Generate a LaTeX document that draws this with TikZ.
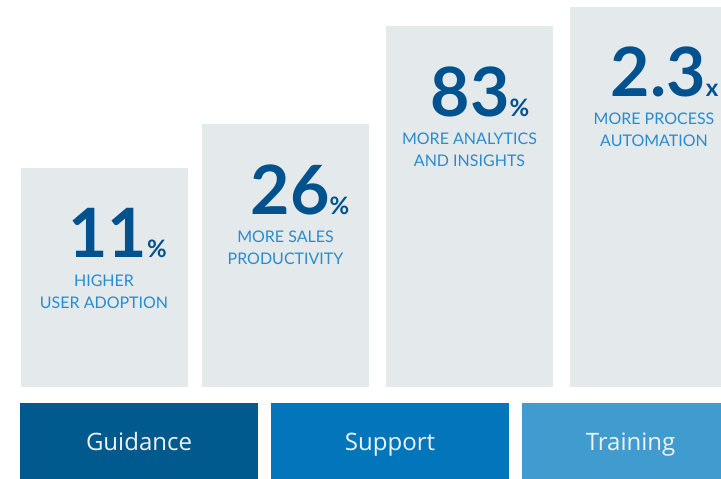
\documentclass[tikz,border=0pt]{standalone}
\usepackage{fontspec}
\setmainfont{Lato}
\newfontfamily\labelfont{Open Sans}
\usepackage{xcolor}
\definecolor{barcolor}{HTML}{E4E9EC}
\definecolor{numcolor}{HTML}{00528F}
\definecolor{textcolor}{HTML}{2A8CCB}
\definecolor{guidecolor}{HTML}{005A8D}
\definecolor{supportcolor}{HTML}{0376BB}
\definecolor{traincolor}{HTML}{409BCE}
\definecolor{lightwhite}{HTML}{EEF2F5}

\begin{document}
\begin{tikzpicture}[x = 1pt, y = 1pt,
    bar/.style = {fill = barcolor, inner sep = 0pt, outer sep = 0pt, anchor = south west, minimum width = 167pt},
    num/.style = {text = numcolor, font = \fontsize{68}{68}\selectfont\bfseries, inner sep = 0pt, anchor = base},
    lbl/.style = {text = textcolor, font = \fontsize{16}{22}\selectfont, align = center, inner sep = 0pt},
    box/.style = {inner sep = 0pt, outer sep = 0pt, anchor = south west, minimum width = 238pt, minimum height = 76pt,
        text height = 20pt, text depth = 1pt, text = lightwhite, font = \labelfont\fontsize{24}{24}\selectfont}]
        \useasboundingbox (0, 0) rectangle (721, 479);

        % Bars
        \node [bar, minimum height = 219pt] (b1) at (21, 92) {};
        \node [bar, minimum height = 263pt] (b2) at (202, 92) {};
        \node [bar, minimum height = 361pt] (b3) at (386, 92) {};
        \node [bar, minimum height = 380pt] (b4) at (570, 92) {};

        % Numbers
        \node [num] (n1) at (117.5, 221) {11{\fontsize{24}{24}\selectfont\%}};
        \node [num] (n2) at (300, 264) {26{\fontsize{24}{24}\selectfont\%}};
        \node [num] (n3) at (480, 362) {83{\fontsize{24}{24}\selectfont\%}};
        \node [num] (n4) at (664.5, 382) {2.3{\fontsize{24}{24}\selectfont x}};

        % Texts
        \node [lbl] (t1) at (104, 187.5) {HIGHER\\USER ADOPTION};
        \node [lbl] (t2) at (285.5, 231) {MORE SALES\\PRODUCTIVITY};
        \node [lbl] (t3) at (469.5, 329) {MORE ANALYTICS\\AND INSIGHTS};
        \node [lbl] (t4) at (654, 349) {MORE PROCESS\\AUTOMATION};

        % Boxes
        \node [box, fill = guidecolor] (g) at (20, 0) {Guidance};
        \node [box, fill = supportcolor] (s) at (271, 0) {Support};
        \node [box, fill = traincolor, minimum width = 217pt] (t) at (522, 0) {Training};

    \end{tikzpicture}
\end{document}
